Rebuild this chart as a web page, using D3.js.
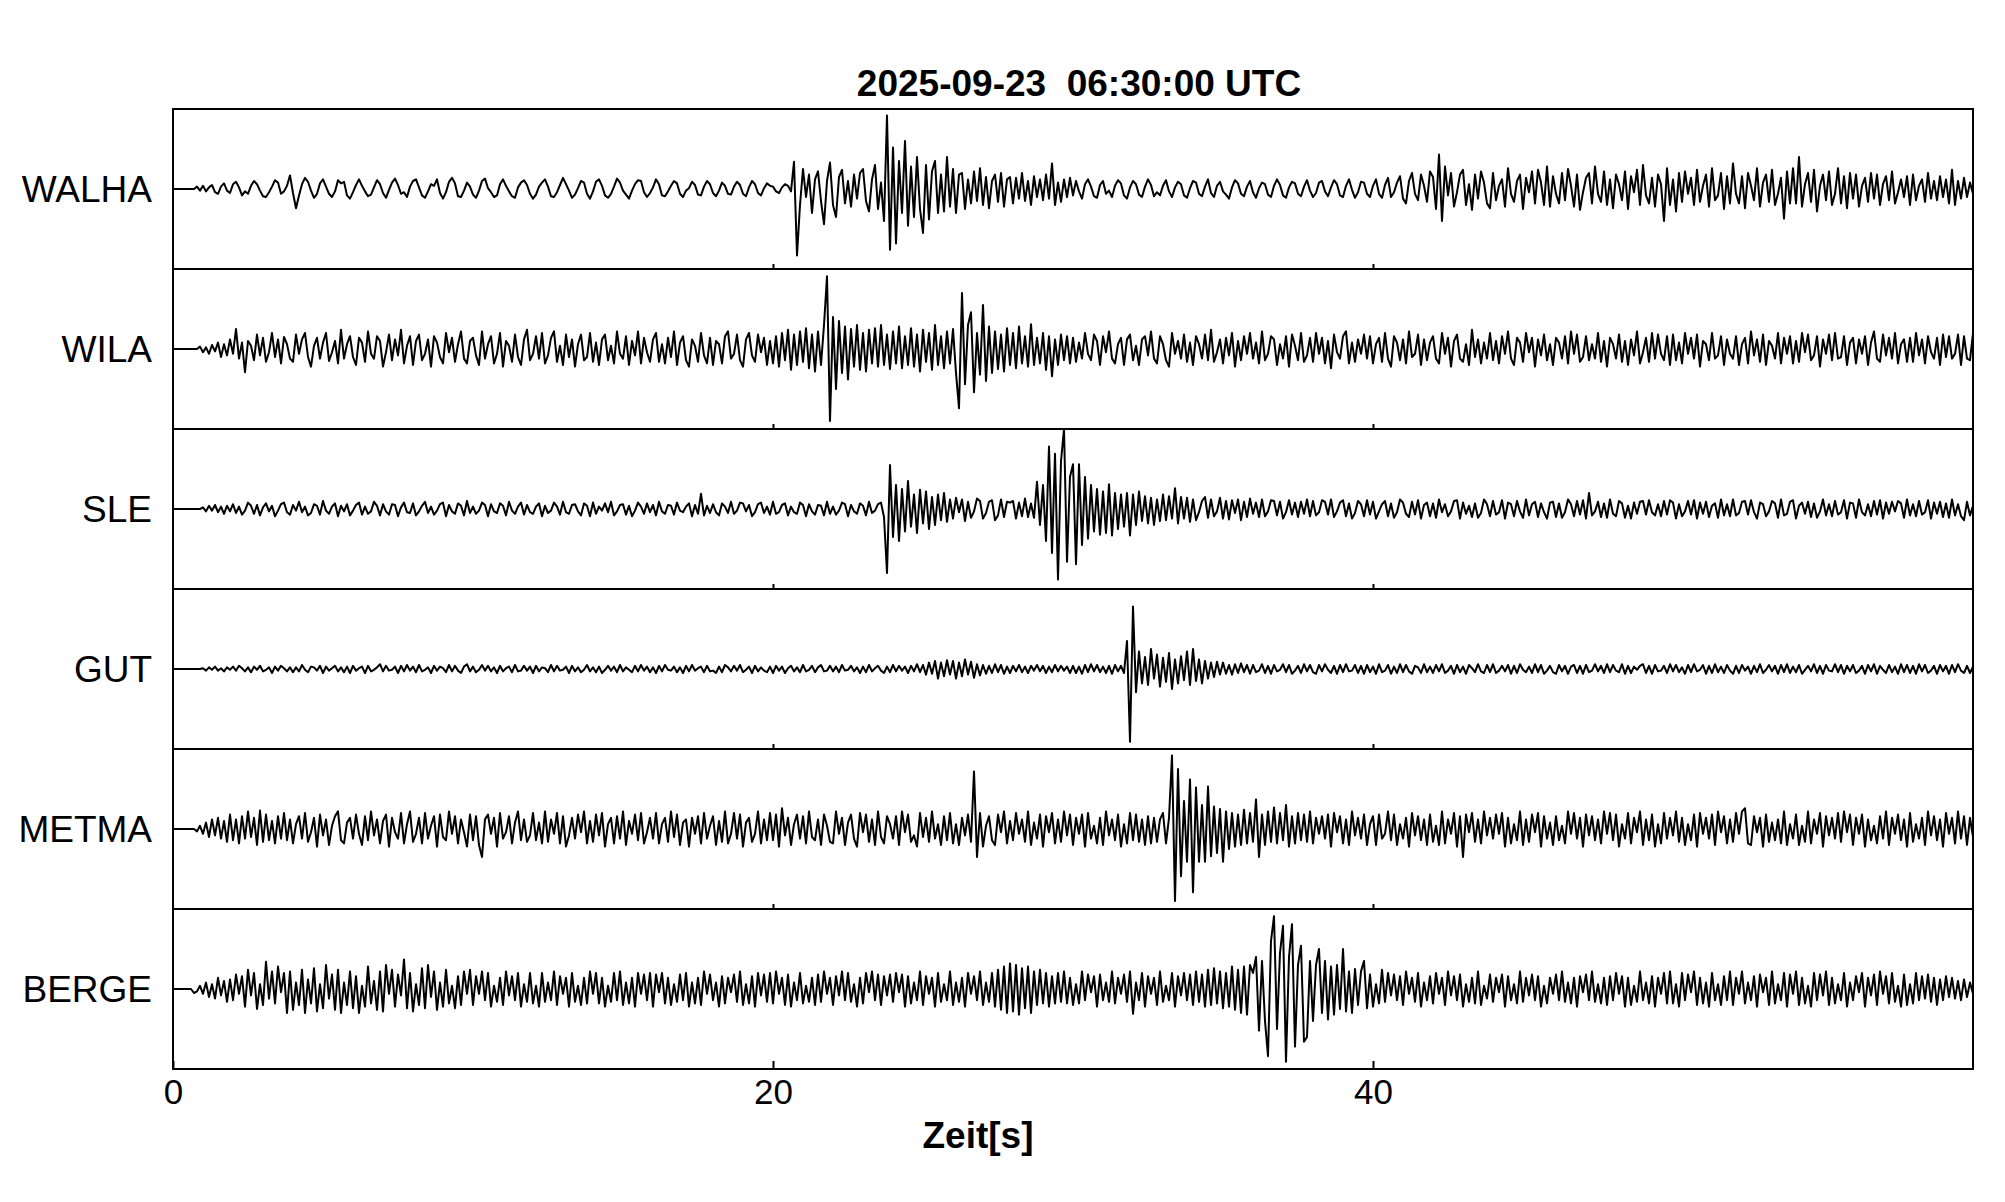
<!DOCTYPE html>
<html>
<head>
<meta charset="utf-8">
<script src="https://cdn.jsdelivr.net/npm/d3@7"></script>
<style>
  body { margin: 0; background: #fff; }
  text { font-family: "Liberation Sans", Arial, sans-serif; fill: #000; }
</style>
</head>
<body>
<svg id="chart"></svg>
<script>
// Seismogramme, 6 Stationen, Werte in % der halben Panelhöhe, Abtastung 0.1 s
var title = "2025-09-23  06:30:00 UTC";
var xLabel = "Zeit[s]";
var stations = ["WALHA", "WILA", "SLE", "GUT", "METMA", "BERGE"];
var xTicks = [0, 20, 40];
var dt = 0.1;

var walha = [
  0,0,0,0,0,0,0,0,3,-2,4,-3,2,5,-4,-6,3,7,-2,-5,
  6,9,2,-8,-3,-6,4,10,6,-2,-9,-10,-4,3,11,8,-6,-3,4,17,
  -5,-24,-8,6,14,9,-2,-11,-6,7,12,3,-6,-10,-3,11,7,9,-8,-12,
  -4,5,12,4,-3,-9,-7,2,11,6,-5,-11,-1,8,13,5,-6,-4,-10,3,
  10,12,2,-8,-11,-3,6,4,12,-5,-12,-4,9,14,7,-9,-10,-2,8,3,
  -7,-11,-2,10,13,1,-4,-10,-8,6,12,4,-3,-9,-11,2,8,11,5,-6,
  -12,-7,3,8,12,3,-9,-10,-4,5,14,6,-2,-11,-7,1,10,8,-6,-12,
  -3,9,12,4,-8,-11,-6,3,13,8,-2,-7,-12,-2,6,11,10,-4,-10,-5,
  2,12,6,-8,-9,-3,4,10,7,-6,-10,-2,1,9,5,-7,-8,3,10,6,
  -5,-9,-2,8,4,-6,-7,3,9,5,-6,-9,2,10,6,-5,-8,1,7,4,
  3,-3,-5,2,6,4,-3,34,-83,-20,25,-10,18,-30,12,22,-15,-44,10,33,
  -20,-35,15,24,-18,10,-22,18,-12,20,25,-15,-28,12,30,-25,8,-40,92,-76,
  52,-68,35,-30,60,-46,28,-35,40,-25,-55,30,-38,22,35,-30,18,-28,40,-22,
  25,-30,18,20,-25,12,-18,22,-15,26,-20,15,-24,10,18,-16,20,-22,12,15,
  -18,14,-12,20,-15,10,-20,16,-10,12,-14,18,-12,32,-20,8,-16,12,-10,14,
  -8,10,-3,-12,6,12,3,-9,-11,5,10,-6,-2,-10,4,11,7,-8,-12,2,
  10,6,-7,-10,3,12,5,-9,-4,-8,4,11,-3,-10,2,9,6,-8,-11,1,
  10,8,-6,-9,3,12,-5,-10,4,9,-3,-7,-12,2,11,7,-6,-9,3,10,
  -4,-11,1,8,6,-7,-10,4,12,5,-8,-11,2,9,7,-6,-9,3,11,-2,
  -10,-5,8,10,-3,-9,2,11,6,-8,-10,4,12,-1,-11,-4,9,8,-6,-10,
  4,12,-6,-11,5,14,-10,-4,8,16,-12,-18,10,20,-6,-14,18,4,-16,22,
  15,-25,43,-40,28,-8,20,-22,-4,18,24,-20,6,-26,18,-12,22,8,-18,-24,
  20,-14,4,12,-22,26,-6,-16,10,18,-25,14,-4,22,-18,24,8,-20,28,-22,
  16,-6,-18,20,-14,25,4,-22,18,-26,-4,14,20,-18,28,-6,-16,22,-20,12,
  -24,18,6,-14,22,-25,16,-4,24,-20,30,-8,-18,14,-22,18,6,-40,26,-20,
  12,-28,20,-16,22,-6,14,-20,24,-16,4,18,-22,26,-14,-8,20,-25,16,-18,
  32,-6,-18,16,-24,20,4,-14,26,-22,8,18,-16,24,-20,-6,14,-37,22,-18,
  26,-18,40,-22,6,20,-16,24,-28,4,18,-14,22,-20,-6,26,-18,16,-24,20,
  -12,18,-22,4,14,-16,20,-12,18,-20,6,16,-14,22,-18,-4,12,-10,16,-20,
  18,-14,4,12,-16,20,-12,10,-14,16,-10,12,-18,24,-20,10,-12,14,-10,8,
  -6
];

var wila = [
  0,0,0,0,0,0,0,0,0,3,-4,2,-6,5,-3,8,-10,6,-8,12,
  -6,25,-12,8,-29,10,4,-14,18,-8,14,-16,-4,20,-10,12,-18,15,6,-12,
  -16,18,-6,12,20,-10,-22,4,14,-12,8,20,-15,-4,10,-18,24,-12,6,16,
  -10,-20,14,8,-16,22,-6,-12,16,10,-22,-4,18,-14,12,-8,24,-18,4,16,
  -20,10,18,-14,-6,12,-22,16,8,-10,-18,20,-4,14,-16,6,22,-12,-18,10,
  14,-8,-20,22,-12,6,16,-18,-6,20,-22,10,4,-16,18,-10,-20,12,24,-14,
  -6,16,-12,20,-18,-8,14,22,-16,4,-20,18,-10,12,-22,6,18,-14,-10,20,
  -16,8,-20,12,18,-14,4,-18,22,-6,-12,16,-20,10,-8,22,-18,14,-4,-16,
  12,20,-16,6,-18,14,-10,22,-20,8,16,-14,-22,12,4,-16,20,-8,-18,14,
  -20,10,6,-18,16,22,-12,-6,18,-14,-22,12,20,-8,-16,18,-4,14,-20,10,
  -18,16,-22,20,-14,24,-26,18,-20,22,-16,26,-24,18,-28,22,-20,30,91,-90,
  40,-50,35,-30,28,-38,25,-22,30,-26,20,-28,24,-18,26,-22,30,-20,18,-25,
  22,-18,28,-24,16,-20,26,-22,18,-28,24,-16,20,-26,30,-20,16,-24,22,-18,
  25,-30,-74,70,-44,30,46,-54,20,-32,55,-40,28,-30,22,-25,18,-28,26,-20,
  20,-24,28,-18,16,-22,31,-20,14,-18,20,-26,16,-34,12,-20,18,-14,16,-18,
  14,-16,8,-12,20,-6,-14,18,10,-20,16,-4,22,-12,-18,6,14,-20,12,18,
  -14,4,-20,12,16,-8,22,-12,-18,16,6,-14,-22,20,-6,10,-12,18,-16,8,
  -20,16,6,-12,18,-14,24,-16,-4,12,-18,14,-8,20,-22,10,-14,16,-6,20,
  -12,8,-18,22,-14,-6,16,12,-20,6,-12,16,-22,18,4,-14,20,-16,-8,14,
  -16,20,-6,14,-18,10,-24,18,-4,-12,16,22,-18,8,-16,12,-6,18,-12,16,
  -18,6,14,-16,20,-12,-22,16,8,-14,12,-18,22,-10,-6,18,-20,12,-14,8,
  16,-12,-18,20,-6,14,-22,10,18,-12,-16,6,-20,24,-10,12,-18,8,-12,20,
  -14,10,-18,16,-6,22,-12,-20,14,8,-16,20,-4,14,-22,12,-8,18,-14,6,
  -20,14,8,-12,16,-18,22,-6,18,-16,-10,16,-14,6,-12,20,-16,10,-22,14,
  6,-12,18,-16,10,-20,12,-8,22,-18,-4,14,-16,20,-12,18,-6,-14,16,-20,
  18,-14,8,-18,20,-6,14,-12,18,-22,10,6,-14,20,-12,-8,16,-20,12,-6,
  -12,16,-20,6,14,-18,22,-8,12,-16,18,-20,10,4,-12,20,-18,14,-6,16,
  -18,10,-16,20,-4,18,-14,-8,16,-22,12,-6,18,-14,20,-12,-10,16,-20,8,
  14,-18,12,-6,16,-20,8,22,-12,-16,18,-8,14,-12,20,-18,6,12,-16,14,
  -16,20,-8,12,-18,16,-4,-12,14,-20,18,-10,16,-12,-6,18,-20,16,-12,-14,
  20
];

var sle = [
  0,0,0,0,0,0,0,0,0,0,2,-3,4,-2,5,-4,3,-6,4,-3,
  6,-5,3,-7,-2,8,4,-6,5,-8,2,7,-3,4,-9,-2,6,8,-4,-7,
  5,-2,9,-4,3,-8,-5,6,4,-7,10,-2,-6,3,7,-9,4,-3,6,-8,
  -2,5,8,-7,3,-6,-3,9,4,-8,6,-3,-7,6,5,-9,2,8,-4,-5,
  7,-8,-3,4,9,-5,3,-7,-2,6,8,-9,5,-3,-6,7,4,-8,10,-5,
  3,-6,-2,8,5,-9,6,-3,-5,7,4,-8,9,-2,-6,3,8,-7,5,-4,
  -6,3,7,-9,4,-5,-2,8,3,-7,9,-4,-6,5,6,-3,-8,7,4,-9,
  8,-6,3,-2,7,-4,9,-8,-3,5,6,-7,4,-9,-2,8,3,-6,7,-4,
  5,-8,9,-3,-6,5,4,-7,8,-2,-4,3,7,-9,5,-6,19,-8,4,-5,
  6,-4,-8,7,3,-5,9,-6,-2,8,7,-3,5,-9,-4,6,8,-5,3,-7,
  9,-6,-4,5,7,-8,3,-4,-6,8,5,-9,6,-3,-7,5,4,-8,9,-6,
  3,-7,-2,8,6,-9,5,-3,-6,7,4,-8,9,-5,-2,6,8,-10,-80,55,
  -35,30,-40,25,-28,35,-22,18,-30,24,-18,22,-25,15,-20,18,-14,20,-16,12,
  -12,14,-4,12,-15,9,-11,-3,13,10,-12,-5,9,11,-14,-8,12,-10,9,8,
  10,-12,8,-9,13,-10,7,-11,34,-20,30,-40,78,-55,69,-88,60,100,-66,40,
  56,-69,56,-45,40,-37,30,-28,25,-32,22,-30,31,-33,20,-25,18,-22,20,-33,
  18,-20,22,-15,16,-18,14,-20,12,-15,18,-14,16,-12,26,-18,15,-12,14,-16,
  12,-14,-4,10,15,-11,12,-9,-3,14,-12,10,-13,11,-5,12,-14,9,-10,13,
  -6,8,-10,12,-9,-3,11,10,-8,9,-12,-4,11,-7,8,-10,9,-6,12,-9,
  10,-8,-4,11,9,-7,12,-10,-3,8,11,-9,7,-12,-5,10,6,-9,11,-7,
  9,-12,-3,6,10,-9,7,-11,-4,12,8,-6,-10,9,-7,11,-12,5,8,-9,
  7,-11,12,-4,6,-9,-3,10,11,-12,8,-6,4,-10,7,-11,-5,12,6,-9,
  10,-7,-4,11,-12,8,6,-9,10,-3,-11,12,-8,6,9,-10,7,-4,-12,8,
  9,-10,7,-11,-4,12,6,-9,10,-7,11,-12,20,-8,-3,9,-10,7,-11,12,
  -6,-9,10,7,-11,4,-12,8,-6,9,10,-7,11,-4,-8,6,-9,10,-7,11,
  8,-12,6,-9,-3,10,-7,11,-12,8,-6,9,-10,4,7,-11,12,-8,6,-9,
  12,-8,-5,9,10,-7,11,-4,-12,8,6,-9,-3,10,7,-11,12,-8,-6,9,
  11,-12,4,8,-6,9,-10,7,-11,-3,12,-8,6,-9,10,-7,-4,11,-12,8,
  7,-11,12,-4,-8,6,-9,10,-7,11,-12,8,-6,9,-3,10,7,-11,12,-8,
  6,-9,10,-7,-4,11,-12,8,-6,9,-10,7,-11,12,-8,6,-9,-14,9,-8,
  4
];

var gut = [
  0,0,0,0,0,0,0,0,0,0,1,-2,2,-1,3,-2,1,-3,2,-1,
  3,-2,4,1,-3,2,-4,3,-1,4,-3,-1,2,-5,3,-2,4,1,-3,2,
  -4,2,-3,5,-1,-4,3,2,-2,4,-5,3,-2,1,4,-3,2,-4,3,-5,
  4,-2,1,3,-5,4,-3,-1,2,6,-3,4,-2,-1,3,-5,4,-3,5,-2,
  3,-4,5,-3,-1,2,-5,4,-2,3,1,-4,5,-3,4,-2,-5,3,6,-3,
  3,-4,-1,5,-2,4,-3,2,-5,4,-3,1,3,-4,5,-3,-2,4,-2,3,
  -5,4,-3,2,1,-4,5,-3,4,-2,-1,3,-5,4,-3,2,-4,-1,5,-3,
  2,-4,3,-5,-1,4,-2,3,-4,5,-3,2,-1,-4,4,-3,5,-2,3,-4,
  2,-5,4,-3,5,-1,-2,3,-4,2,-5,4,-3,5,-2,1,3,-4,4,-3,
  -2,-5,3,-4,5,2,-3,4,-2,5,-4,-1,3,-5,4,-3,2,-2,-4,3,
  -5,4,-2,3,-5,1,4,-3,2,-4,5,-3,-1,4,-4,2,5,-3,-2,4,
  -3,3,-4,5,-2,-1,4,-3,2,-5,3,-4,5,-3,1,4,-2,-5,3,-4,
  5,-3,4,-2,3,-5,4,-3,6,-4,5,-7,8,-6,10,-12,8,-9,11,-7,
  10,-12,8,-9,12,-7,9,-11,6,-8,5,-6,4,-5,6,-4,5,-6,3,-5,
  4,-3,5,-4,3,-5,4,-2,5,-3,4,-5,3,-4,5,-3,4,-2,3,-5,
  4,-5,3,-6,5,-4,6,-3,5,-4,3,-5,4,-6,5,-3,4,-5,35,-91,
  78,-29,22,-18,15,-20,25,-12,18,-22,14,-16,20,-25,12,-18,16,-14,22,-20,
  25,-15,12,-18,10,-12,8,-10,9,-7,8,-6,5,-7,6,-5,7,-4,5,-6,
  5,-4,-2,6,-5,4,-6,5,-3,-1,6,-4,5,-6,-2,4,-5,6,-3,5,
  -4,-6,5,-3,6,-1,-5,4,-6,5,-4,6,-3,-2,5,-5,4,-6,5,-4,
  3,-6,6,-4,-2,5,-6,3,-5,6,-4,5,-3,-6,4,2,-5,6,-4,3,
  -5,5,-3,6,-5,-2,4,-6,5,-4,3,-6,5,1,-4,6,-3,-5,5,-4,
  6,-5,-2,4,-3,5,-6,4,-5,6,-1,-4,3,-5,6,-4,5,-6,-2,4,
  -4,-6,5,-3,4,-6,3,5,-5,4,-6,5,-4,-2,6,-3,4,-5,6,-4,
  5,-2,-4,6,-6,4,-5,3,-1,4,6,-5,4,-6,5,-3,-2,4,-5,6,
  -3,5,-4,2,-6,5,-4,6,-3,-1,5,-6,4,-5,6,-4,3,-5,5,-2,
  -6,4,-5,5,-2,3,-6,4,-4,6,-5,-1,5,-3,4,-6,5,-4,6,-5,
  3,-4,5,-6,-1,4,-3,6,-5,4,-6,5,-2,-3,6,-4,5,-6,4,-3,
  5,-5,-2,4,-6,5,-3,6,-6,4,-1,-5,5,-4,3,-6,6,-4,5,-5,
  4,-6,6,-3,5,-5,-2,4,-6,5,-3,4,-6,5,-4,6,-2,-5,4,-5,
  3
];

var metma = [
  0,0,0,0,0,0,0,0,-3,4,-6,8,-10,12,-8,14,-12,10,-16,18,
  -14,12,-18,16,-12,22,-10,14,-20,23,-16,18,-14,10,-18,16,-12,20,-14,12,
  -18,6,16,-12,20,-16,-4,14,-22,18,-8,12,-20,4,16,22,-14,-18,8,14,
  -12,18,-6,-20,16,-14,22,-8,12,-18,10,18,-22,14,-4,-12,20,-18,6,22,
  -16,-6,14,-18,20,-12,4,16,-22,18,-10,-14,22,-6,16,-18,12,-4,-22,18,
  -14,16,-20,-35,12,18,-6,14,-22,20,-12,-4,16,-18,8,22,-14,12,-16,-8,
  20,-14,8,-18,22,-16,12,-6,20,-18,16,-22,-8,14,-12,18,-4,22,-18,10,
  -16,18,-8,20,-22,6,14,-18,16,-12,22,-20,10,-6,18,-14,20,-18,-4,14,
  -12,20,-18,6,14,-16,22,-10,18,-20,8,12,-22,14,-6,16,-18,20,-12,4,
  16,-20,10,-16,22,-18,-6,20,-12,18,-22,8,14,-16,-6,22,-18,12,-14,20,
  -14,18,-22,26,-8,14,-20,6,18,-12,16,-18,22,-10,-14,12,-20,18,4,-16,
  -18,22,-6,14,-20,8,18,-12,-22,20,-4,18,-16,12,-20,22,-10,-18,16,6,
  -12,16,-20,22,-4,18,-16,-8,-22,20,-10,14,-16,22,-12,6,-20,16,-14,20,
  -18,6,-20,14,-8,18,-16,72,-35,20,-22,4,16,-14,-20,18,-4,22,-18,10,
  -14,20,-6,12,-16,22,-20,8,-12,18,-22,16,-4,20,-18,12,-16,22,-8,18,
  -20,14,-6,18,-22,20,-12,4,-18,14,-20,22,-8,12,-14,18,-22,6,-18,20,
  -14,18,-16,12,-20,16,-18,14,-16,12,20,-18,14,92,-90,75,-59,35,-41,62,
  -79,52,-41,30,-41,53,-34,28,-30,25,-41,22,-25,20,-22,18,-20,24,-18,20,
  -16,37,-35,18,-20,22,-16,27,-18,20,-14,30,-22,16,-18,20,-14,18,-16,22,
  -18,14,-6,16,-12,18,-22,20,-4,16,-18,12,-20,22,-8,14,-12,18,-20,6,
  16,-20,18,-12,-6,22,-14,18,-20,6,-12,14,-22,20,-8,16,-14,12,-20,18,
  -16,4,-20,22,-18,12,-6,20,-22,16,-35,18,-4,20,-16,12,-18,22,-8,14,
  -12,18,-6,20,-22,14,-18,6,-14,22,-20,12,-16,18,-4,20,-22,16,-12,8,
  -20,16,-14,4,-18,22,-6,20,-12,14,-22,18,-8,16,-14,12,-18,22,-6,20,
  -14,18,-22,6,-12,20,-18,14,-4,22,-20,12,-14,18,-22,6,-18,20,-12,14,
  -8,22,-16,14,-20,6,-14,18,-22,20,-6,14,-12,18,-20,22,-4,16,-18,12,
  -16,20,-6,22,26,-18,-20,16,-4,14,-22,18,-16,8,-14,12,-18,22,-20,6,
  -12,18,-20,4,-16,22,-18,12,-6,20,-22,16,-8,14,-12,20,-16,22,-4,18,
  -20,14,-6,18,-22,12,-14,4,-18,16,-12,22,-20,14,-6,18,-14,12,-22,20,
  -16,6,-12,14,-20,22,-8,16,-14,12,-22,20,-6,14,-18,22,-12,16,-20,14,
  -10
];

var berge = [
  0,0,0,0,0,0,0,-5,-3,4,-6,8,-10,6,-12,14,-8,10,-16,12,
  -14,18,-6,16,-22,24,-8,20,-25,6,-20,34,-12,22,-18,28,-4,20,-30,22,
  -26,8,-20,24,-30,12,-18,26,-28,6,-24,30,-12,18,-26,24,-30,8,-20,22,
  -24,16,-30,4,-22,28,-18,10,-26,22,-28,30,-6,24,-22,18,-8,37,-24,20,
  -28,6,-20,26,-24,30,-10,22,-26,8,-22,24,-18,4,-24,16,-20,22,-6,24,
  -20,16,-6,22,-14,20,-22,4,-16,14,-20,22,-8,16,-14,20,-22,6,-16,20,
  -18,4,-22,20,-16,8,-14,22,-20,16,-6,14,-22,20,-16,4,-20,14,-18,22,
  -6,20,-18,14,-22,4,-16,20,-14,22,-20,8,-18,14,-22,20,-6,18,-14,20,
  -22,18,-4,20,-18,14,-20,6,-16,18,-14,20,-22,8,-18,14,-20,22,-6,18,
  -14,8,-22,16,-18,14,-4,18,-16,22,-20,6,-18,16,-22,20,-8,18,-16,20,
  -18,22,-6,14,-20,18,-22,8,-14,20,-18,4,-16,14,-20,18,-16,22,-6,14,
  -20,16,-8,22,-14,20,-16,6,-22,14,-18,20,-4,22,-14,18,-20,16,-8,18,
  -16,20,-4,18,-22,16,-18,8,-14,22,-20,16,-6,14,-22,20,-16,6,-14,22,
  -20,8,-16,14,-22,20,-6,16,-14,22,-20,8,-16,20,-22,24,-26,28,-30,32,
  -28,30,-32,26,-24,28,-30,22,-20,24,-18,20,-22,16,-18,20,-16,22,-18,14,
  -20,6,-18,22,-14,18,-4,16,-22,18,-14,8,-16,22,-18,14,-6,18,-16,22,
  -31,8,-14,20,-22,16,-6,14,-20,22,-16,4,-14,20,-22,16,-8,20,-14,18,
  -20,22,-16,18,-22,24,-20,26,-18,22,-24,20,-22,28,-26,24,-30,28,-32,30,
  20,40,-52,35,-40,-84,60,91,-50,45,79,-91,40,81,-72,30,54,-66,-60,35,
  -40,30,50,-30,35,-38,28,-32,30,-25,50,-28,22,-30,25,-20,22,35,-24,18,
  -22,6,-18,24,-16,20,-8,18,-14,16,-20,22,-6,14,-16,20,-22,8,-14,16,
  -18,20,-6,14,-20,22,-8,16,-14,18,-22,6,-16,14,-18,22,-20,4,-12,18,
  -16,14,-4,18,-22,16,-14,6,-18,22,-16,14,-8,18,-14,16,-22,4,-18,14,
  -6,18,-14,22,-16,8,-18,14,-22,16,-4,18,-14,22,-16,6,-18,14,-20,16,
  -14,20,-6,16,-22,14,-20,4,-16,22,-14,8,-18,16,-22,14,-6,20,-18,22,
  -18,6,-22,20,-14,18,-4,22,-20,14,-18,8,-22,20,-14,6,-20,16,-14,22,
  -20,14,-6,22,-18,8,-14,16,-22,18,-4,14,-20,22,-18,6,-14,20,-22,18,
  -6,22,-20,14,-18,4,-22,20,-14,18,-8,22,-20,14,-18,6,-14,20,-22,8,
  -14,16,-4,20,-22,14,-8,18,-20,22,-6,16,-18,20,-16,4,-22,18,-20,6,
  -18,20,-14,16,-12,18,-16,14,-20,12,-14,16,-10,14,-12,10,-14,12,-10,8,
  -6
];

var traces = [walha, wila, sle, gut, metma, berge];

var width = 2005, height = 1202;
var plotLeft = 173, plotRight = 1973, plotTop = 109, panelH = 160;
var plotBottom = plotTop + panelH * stations.length;

var svg = d3.select("#chart")
    .attr("width", width)
    .attr("height", height);

var x = d3.scaleLinear().domain([0, 60]).range([plotLeft, plotRight]);

var line = d3.line()
    .x(function(d, i) { return x(i * dt); })
    .y(function(d) { return d; });

stations.forEach(function(name, k) {
    var y0 = plotTop + k * panelH;
    var y = d3.scaleLinear().domain([-100, 100]).range([y0 + panelH, y0]);
    var g = svg.append("g");

    g.append("path")
        .datum(traces[k].map(function(v) { return y(v); }))
        .attr("d", line)
        .attr("fill", "none")
        .attr("stroke", "#000")
        .attr("stroke-width", 2)
        .attr("stroke-linejoin", "round");

    g.append("text")
        .attr("x", 152)
        .attr("y", y(0) + 13)
        .attr("text-anchor", "end")
        .style("font-size", "37px")
        .text(name);

    // ticks an der Unterkante jedes Panels, nach innen
    var last = k === stations.length - 1;
    var axis = d3.axisBottom(x)
        .tickValues(last ? xTicks : xTicks.slice(1))
        .tickSize(last ? -8 : -5)
        .tickPadding(10)
        .tickFormat(last ? d3.format("d") : "");
    var ax = svg.append("g")
        .attr("transform", "translate(0," + (y0 + panelH) + ")")
        .call(axis);
    ax.select(".domain").remove();
    ax.selectAll("line").attr("stroke", "#000").attr("stroke-width", 2);
    ax.selectAll("text")
        .attr("fill", "#000")
        .style("font-family", "'Liberation Sans', Arial, sans-serif")
        .style("font-size", "35px");
});

// Rahmen und Trennlinien
svg.append("rect")
    .attr("x", plotLeft).attr("y", plotTop)
    .attr("width", plotRight - plotLeft).attr("height", plotBottom - plotTop)
    .attr("fill", "none").attr("stroke", "#000").attr("stroke-width", 2);

svg.selectAll(".sep")
    .data(d3.range(1, stations.length))
    .enter().append("line")
    .attr("x1", plotLeft).attr("x2", plotRight)
    .attr("y1", function(d) { return plotTop + d * panelH; })
    .attr("y2", function(d) { return plotTop + d * panelH; })
    .attr("stroke", "#000").attr("stroke-width", 2);

svg.append("text")
    .attr("x", 1079).attr("y", 96)
    .attr("text-anchor", "middle")
    .style("font-size", "37px").style("font-weight", "bold")
    .style("white-space", "pre")
    .text(title);

svg.append("text")
    .attr("x", 978).attr("y", 1148)
    .attr("text-anchor", "middle")
    .style("font-size", "37px").style("font-weight", "bold")
    .text(xLabel);
</script>
</body>
</html>
